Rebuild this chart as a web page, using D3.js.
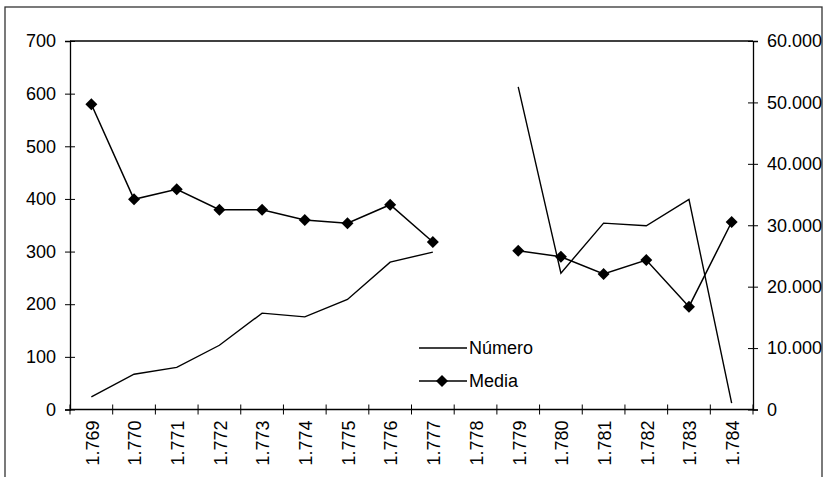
<!DOCTYPE html>
<html><head><meta charset="utf-8">
<script src="https://cdn.jsdelivr.net/npm/d3@7"></script>
<style>
html,body{margin:0;padding:0;background:#fff;}
svg{display:block;}
text{font-family:"Liberation Sans",Arial,sans-serif;font-size:18px;fill:#000;}
</style></head>
<body>
<script>
const years = ["1.769","1.770","1.771","1.772","1.773","1.774","1.775","1.776","1.777","1.778","1.779","1.780","1.781","1.782","1.783","1.784"];
const numero = [24, 67, 80, 122, 183, 176, 209, 280, 299, null, 613, 259, 354, 349, 399, 12];
const media = [49700, 34220, 35850, 32530, 32530, 30850, 30320, 33340, 27270, null, 25860, 24880, 22060, 24340, 16740, 30530];
const leftTicks = [0,100,200,300,400,500,600,700];
const rightTicks = [0,10000,20000,30000,40000,50000,60000];
const seriesNames = ["Número","Media"];

const W = 829, H = 477;
const L = 70, R = 753, T = 41, B = 409.5;

const svg = d3.select("body").append("svg").attr("width", W).attr("height", H);

// outer border
svg.append("rect").attr("x",5).attr("y",7).attr("width",817).attr("height",480)
  .attr("fill","none").attr("stroke","#333").attr("stroke-width",1.3);

const x = d3.scaleBand().domain(years).range([L,R]).padding(0);
const yL = d3.scaleLinear().domain([0,700]).range([B,T]);
const yR = d3.scaleLinear().domain([0,60000]).range([B,T]);

// plot area top border
svg.append("line").attr("x1",L).attr("x2",R).attr("y1",T).attr("y2",T).attr("stroke","#000").attr("stroke-width",1.3);

const fmtR = d => d === 0 ? "0" : d3.format(",")(d).replace(/,/g,".");

// left axis
const gL = svg.append("g").attr("transform",`translate(${L},0)`)
  .call(d3.axisLeft(yL).tickValues(leftTicks).tickSize(5).tickPadding(9));
gL.selectAll(".tick line").attr("x2",5).attr("x1",-5).attr("stroke","#000");
// right axis
const gR = svg.append("g").attr("transform",`translate(${R},0)`)
  .call(d3.axisRight(yR).tickValues(rightTicks).tickFormat(fmtR).tickSize(5).tickPadding(9));
gR.selectAll(".tick line").attr("x1",-5).attr("x2",5).attr("stroke","#000");
// bottom axis
const boundaries = years.map((d,i)=>i).concat([years.length]);
const gB = svg.append("g");
gB.append("line").attr("x1",L).attr("x2",R).attr("y1",B).attr("y2",B).attr("stroke","#000").attr("stroke-width",1.3);
gB.selectAll("line.t").data(boundaries).enter().append("line")
  .attr("x1",i=>L + i*x.bandwidth()).attr("x2",i=>L + i*x.bandwidth())
  .attr("y1",B-5).attr("y2",B+5).attr("stroke","#000");
gB.selectAll("text").data(years).enter().append("text")
  .attr("transform",d=>`translate(${x(d)+x.bandwidth()/2+1},${B+11}) rotate(-90)`)
  .attr("text-anchor","end").attr("dy","0.35em").text(d=>d);

[gL,gR].forEach(g=>{
  g.select(".domain").attr("stroke","#000").attr("stroke-width",1.3);
  g.selectAll("text").style("font-family",'"Liberation Sans",Arial,sans-serif').style("font-size","18px").attr("fill","#000");
});

const cx = d => x(d)+x.bandwidth()/2;

// Número line
const lineN = d3.line().defined(d=>d.v!==null).x(d=>cx(d.y)).y(d=>yL(d.v));
svg.append("path").datum(years.map((y,i)=>({y,v:numero[i]})))
  .attr("d",lineN).attr("fill","none").attr("stroke","#000").attr("stroke-width",1.4);

// Media line
const mData = years.map((y,i)=>({y,v:media[i]}));
const lineM = d3.line().defined(d=>d.v!==null).x(d=>cx(d.y)).y(d=>yR(d.v));
svg.append("path").datum(mData).attr("d",lineM).attr("fill","none").attr("stroke","#000").attr("stroke-width",1.5);
const diamond = "M0,-6L6,0L0,6L-6,0Z";
svg.selectAll("path.dm").data(mData.filter(d=>d.v!==null)).enter().append("path")
  .attr("d",diamond).attr("transform",d=>`translate(${cx(d.y)},${yR(d.v)})`).attr("fill","#000");

// legend
const lg = svg.append("g");
lg.append("line").attr("x1",419).attr("x2",467).attr("y1",348).attr("y2",348).attr("stroke","#000").attr("stroke-width",1.4);
lg.append("text").attr("x",469).attr("y",348).attr("dy","0.35em").text(seriesNames[0]);
lg.append("line").attr("x1",419).attr("x2",467).attr("y1",381).attr("y2",381).attr("stroke","#000").attr("stroke-width",1.5);
lg.append("path").attr("d",diamond).attr("transform","translate(442,381)").attr("fill","#000");
lg.append("text").attr("x",469).attr("y",381).attr("dy","0.35em").text(seriesNames[1]);
</script>
</body></html>
